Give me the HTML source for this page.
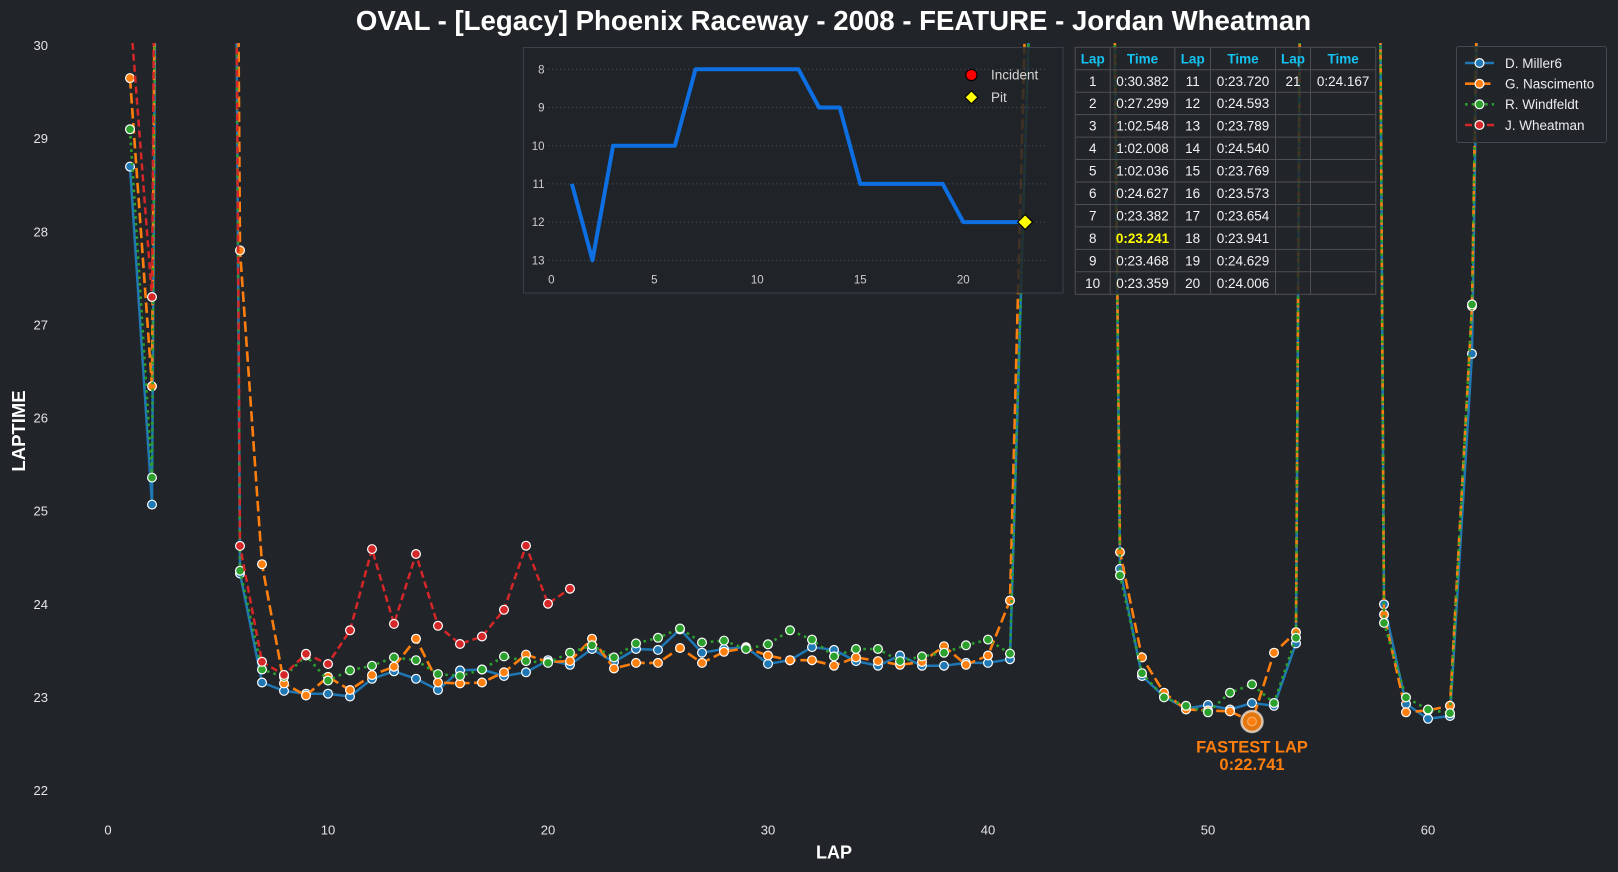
<!DOCTYPE html>
<html><head><meta charset="utf-8"><style>
html,body{margin:0;padding:0;background:#212429;}
svg{display:block;font-family:"Liberation Sans",Arial,sans-serif;}
</style></head><body>
<svg width="1618" height="872" viewBox="0 0 1618 872" xmlns="http://www.w3.org/2000/svg">
<defs><clipPath id="pc"><rect x="0" y="43" width="1618" height="829"/></clipPath></defs>
<rect width="1618" height="872" fill="#212429"/>
<text x="833.5" y="30" text-anchor="middle" font-size="27.6" font-weight="bold" fill="#ffffff">OVAL - [Legacy] Phoenix Raceway - 2008 - FEATURE - Jordan Wheatman</text>
<g font-size="13" fill="#e4e4e4" text-anchor="end">
<text x="48" y="50.1">30</text><text x="48" y="143.2">29</text><text x="48" y="236.4">28</text><text x="48" y="329.5">27</text><text x="48" y="422.6">26</text><text x="48" y="515.7">25</text><text x="48" y="608.9">24</text><text x="48" y="702">23</text><text x="48" y="795.1">22</text>
</g>
<g font-size="13" fill="#e4e4e4" text-anchor="middle">
<text x="108" y="834.6">0</text><text x="328" y="834.6">10</text><text x="548" y="834.6">20</text><text x="768" y="834.6">30</text><text x="988" y="834.6">40</text><text x="1208" y="834.6">50</text><text x="1428" y="834.6">60</text>
</g>
<text x="834" y="858.5" text-anchor="middle" font-size="18" font-weight="bold" fill="#ffffff">LAP</text>
<text transform="translate(25,431) rotate(-90)" text-anchor="middle" font-size="18.5" font-weight="bold" fill="#ffffff">LAPTIME</text>

<g clip-path="url(#pc)" fill="none" stroke-linejoin="round">
<polyline stroke="#1f77b4" stroke-width="2.5" points="130,166.6 152,504.6 174,-2934.5 196,-2934.5 218,-2934.5 240,573.5 262,682.5 284,690.9 306,693.7 328,693.7 350,696.5 372,678.8 394,671.3 416,678.8 438,690.0 460,670.4 482,669.5 504,676.0 526,672.3 548,660.2 570,664.8 592,649.0 614,662.0 636,649.0 658,649.9 680,629.4 702,652.7 724,649.0 746,647.1 768,663.9 790,660.2 812,647.1 834,649.9 856,661.1 878,665.7 900,655.5 922,665.7 944,665.7 966,662.9 988,662.9 1010,659.2 1032,-75.6 1054,-2934.5 1076,-2934.5 1098,-1630.8 1120,568.9 1142,676.0 1164,696.5 1186,708.6 1208,704.9 1230,709.5 1252,703.0 1274,705.8 1296,643.4 1318,-2934.5 1340,-2934.5 1362,-2934.5 1384,604.3 1406,703.9 1428,718.8 1450,716.0 1472,353.7 1494,-1072"/>
<g fill="#1f77b4" stroke="#ffffff" stroke-width="1.2">
<circle cx="130" cy="166.6" r="4.4"/><circle cx="152" cy="504.6" r="4.4"/><circle cx="240" cy="573.5" r="4.4"/><circle cx="262" cy="682.5" r="4.4"/><circle cx="284" cy="690.9" r="4.4"/><circle cx="306" cy="693.7" r="4.4"/><circle cx="328" cy="693.7" r="4.4"/><circle cx="350" cy="696.5" r="4.4"/><circle cx="372" cy="678.8" r="4.4"/><circle cx="394" cy="671.3" r="4.4"/><circle cx="416" cy="678.8" r="4.4"/><circle cx="438" cy="690.0" r="4.4"/><circle cx="460" cy="670.4" r="4.4"/><circle cx="482" cy="669.5" r="4.4"/><circle cx="504" cy="676.0" r="4.4"/><circle cx="526" cy="672.3" r="4.4"/><circle cx="548" cy="660.2" r="4.4"/><circle cx="570" cy="664.8" r="4.4"/><circle cx="592" cy="649.0" r="4.4"/><circle cx="614" cy="662.0" r="4.4"/><circle cx="636" cy="649.0" r="4.4"/><circle cx="658" cy="649.9" r="4.4"/><circle cx="680" cy="629.4" r="4.4"/><circle cx="702" cy="652.7" r="4.4"/><circle cx="724" cy="649.0" r="4.4"/><circle cx="746" cy="647.1" r="4.4"/><circle cx="768" cy="663.9" r="4.4"/><circle cx="790" cy="660.2" r="4.4"/><circle cx="812" cy="647.1" r="4.4"/><circle cx="834" cy="649.9" r="4.4"/><circle cx="856" cy="661.1" r="4.4"/><circle cx="878" cy="665.7" r="4.4"/><circle cx="900" cy="655.5" r="4.4"/><circle cx="922" cy="665.7" r="4.4"/><circle cx="944" cy="665.7" r="4.4"/><circle cx="966" cy="662.9" r="4.4"/><circle cx="988" cy="662.9" r="4.4"/><circle cx="1010" cy="659.2" r="4.4"/><circle cx="1120" cy="568.9" r="4.4"/><circle cx="1142" cy="676.0" r="4.4"/><circle cx="1164" cy="696.5" r="4.4"/><circle cx="1186" cy="708.6" r="4.4"/><circle cx="1208" cy="704.9" r="4.4"/><circle cx="1230" cy="709.5" r="4.4"/><circle cx="1252" cy="703.0" r="4.4"/><circle cx="1274" cy="705.8" r="4.4"/><circle cx="1296" cy="643.4" r="4.4"/><circle cx="1384" cy="604.3" r="4.4"/><circle cx="1406" cy="703.9" r="4.4"/><circle cx="1428" cy="718.8" r="4.4"/><circle cx="1450" cy="716.0" r="4.4"/><circle cx="1472" cy="353.7" r="4.4"/>
</g>

<polyline stroke="#ff7f0e" stroke-width="2.6" stroke-dasharray="10.5 4.5" points="130,78.1 152,386.3 174,-2934.5 196,-2934.5 218,-2934.5 240,250.4 262,564.2 284,683.4 306,695.5 328,676.9 350,690.0 372,675.1 394,666.7 416,638.7 438,682.5 460,683.4 482,682.5 504,672.3 526,654.6 548,662.0 570,661.1 592,638.7 614,668.5 636,662.9 658,662.9 680,648.0 702,662.9 724,651.8 746,648.0 768,655.5 790,660.2 812,660.2 834,665.7 856,657.4 878,661.1 900,664.8 922,662.0 944,646.2 966,664.8 988,655.5 1010,600.5 1032,-243.1 1054,-2934.5 1076,-2934.5 1098,-1630.8 1120,552.1 1142,657.4 1164,692.7 1186,709.5 1208,710.4 1230,711.4 1252,721.5 1274,652.7 1296,632.2 1318,-2934.5 1340,-2934.5 1362,-2934.5 1384,614.5 1406,712.3 1428,710.4 1450,705.8 1472,306.2 1494,-1072"/>
<g fill="#ff7f0e" stroke="#ffffff" stroke-width="1.2">
<circle cx="130" cy="78.1" r="4.4"/><circle cx="152" cy="386.3" r="4.4"/><circle cx="240" cy="250.4" r="4.4"/><circle cx="262" cy="564.2" r="4.4"/><circle cx="284" cy="683.4" r="4.4"/><circle cx="306" cy="695.5" r="4.4"/><circle cx="328" cy="676.9" r="4.4"/><circle cx="350" cy="690.0" r="4.4"/><circle cx="372" cy="675.1" r="4.4"/><circle cx="394" cy="666.7" r="4.4"/><circle cx="416" cy="638.7" r="4.4"/><circle cx="438" cy="682.5" r="4.4"/><circle cx="460" cy="683.4" r="4.4"/><circle cx="482" cy="682.5" r="4.4"/><circle cx="504" cy="672.3" r="4.4"/><circle cx="526" cy="654.6" r="4.4"/><circle cx="548" cy="662.0" r="4.4"/><circle cx="570" cy="661.1" r="4.4"/><circle cx="592" cy="638.7" r="4.4"/><circle cx="614" cy="668.5" r="4.4"/><circle cx="636" cy="662.9" r="4.4"/><circle cx="658" cy="662.9" r="4.4"/><circle cx="680" cy="648.0" r="4.4"/><circle cx="702" cy="662.9" r="4.4"/><circle cx="724" cy="651.8" r="4.4"/><circle cx="746" cy="648.0" r="4.4"/><circle cx="768" cy="655.5" r="4.4"/><circle cx="790" cy="660.2" r="4.4"/><circle cx="812" cy="660.2" r="4.4"/><circle cx="834" cy="665.7" r="4.4"/><circle cx="856" cy="657.4" r="4.4"/><circle cx="878" cy="661.1" r="4.4"/><circle cx="900" cy="664.8" r="4.4"/><circle cx="922" cy="662.0" r="4.4"/><circle cx="944" cy="646.2" r="4.4"/><circle cx="966" cy="664.8" r="4.4"/><circle cx="988" cy="655.5" r="4.4"/><circle cx="1010" cy="600.5" r="4.4"/><circle cx="1120" cy="552.1" r="4.4"/><circle cx="1142" cy="657.4" r="4.4"/><circle cx="1164" cy="692.7" r="4.4"/><circle cx="1186" cy="709.5" r="4.4"/><circle cx="1208" cy="710.4" r="4.4"/><circle cx="1230" cy="711.4" r="4.4"/><circle cx="1252" cy="721.5" r="4.4"/><circle cx="1274" cy="652.7" r="4.4"/><circle cx="1296" cy="632.2" r="4.4"/><circle cx="1384" cy="614.5" r="4.4"/><circle cx="1406" cy="712.3" r="4.4"/><circle cx="1428" cy="710.4" r="4.4"/><circle cx="1450" cy="705.8" r="4.4"/><circle cx="1472" cy="306.2" r="4.4"/>
</g>

<polyline stroke="#2ca02c" stroke-width="2.6" stroke-dasharray="2.6 4.1" points="130,129.3 152,477.6 174,-2934.5 196,-2934.5 218,-2934.5 240,570.7 262,669.5 284,676.9 306,655.5 328,680.6 350,670.4 372,665.7 394,657.4 416,660.2 438,674.1 460,676.0 482,669.5 504,656.4 526,661.1 548,662.9 570,652.7 592,645.3 614,657.4 636,643.4 658,637.8 680,628.5 702,642.5 724,640.6 746,649.0 768,644.3 790,630.3 812,639.6 834,656.4 856,649.0 878,649.0 900,661.1 922,656.4 944,652.7 966,645.3 988,639.6 1010,653.6 1032,-75.6 1054,-2934.5 1076,-2934.5 1098,-1630.8 1120,575.4 1142,673.2 1164,697.4 1186,705.8 1208,712.3 1230,692.7 1252,684.4 1274,703.0 1296,637.8 1318,-2934.5 1340,-2934.5 1362,-2934.5 1384,622.9 1406,697.4 1428,709.5 1450,713.2 1472,304.4 1494,-1072"/>
<g fill="#2ca02c" stroke="#ffffff" stroke-width="1.2">
<circle cx="130" cy="129.3" r="4.4"/><circle cx="152" cy="477.6" r="4.4"/><circle cx="240" cy="570.7" r="4.4"/><circle cx="262" cy="669.5" r="4.4"/><circle cx="284" cy="676.9" r="4.4"/><circle cx="306" cy="655.5" r="4.4"/><circle cx="328" cy="680.6" r="4.4"/><circle cx="350" cy="670.4" r="4.4"/><circle cx="372" cy="665.7" r="4.4"/><circle cx="394" cy="657.4" r="4.4"/><circle cx="416" cy="660.2" r="4.4"/><circle cx="438" cy="674.1" r="4.4"/><circle cx="460" cy="676.0" r="4.4"/><circle cx="482" cy="669.5" r="4.4"/><circle cx="504" cy="656.4" r="4.4"/><circle cx="526" cy="661.1" r="4.4"/><circle cx="548" cy="662.9" r="4.4"/><circle cx="570" cy="652.7" r="4.4"/><circle cx="592" cy="645.3" r="4.4"/><circle cx="614" cy="657.4" r="4.4"/><circle cx="636" cy="643.4" r="4.4"/><circle cx="658" cy="637.8" r="4.4"/><circle cx="680" cy="628.5" r="4.4"/><circle cx="702" cy="642.5" r="4.4"/><circle cx="724" cy="640.6" r="4.4"/><circle cx="746" cy="649.0" r="4.4"/><circle cx="768" cy="644.3" r="4.4"/><circle cx="790" cy="630.3" r="4.4"/><circle cx="812" cy="639.6" r="4.4"/><circle cx="834" cy="656.4" r="4.4"/><circle cx="856" cy="649.0" r="4.4"/><circle cx="878" cy="649.0" r="4.4"/><circle cx="900" cy="661.1" r="4.4"/><circle cx="922" cy="656.4" r="4.4"/><circle cx="944" cy="652.7" r="4.4"/><circle cx="966" cy="645.3" r="4.4"/><circle cx="988" cy="639.6" r="4.4"/><circle cx="1010" cy="653.6" r="4.4"/><circle cx="1120" cy="575.4" r="4.4"/><circle cx="1142" cy="673.2" r="4.4"/><circle cx="1164" cy="697.4" r="4.4"/><circle cx="1186" cy="705.8" r="4.4"/><circle cx="1208" cy="712.3" r="4.4"/><circle cx="1230" cy="692.7" r="4.4"/><circle cx="1252" cy="684.4" r="4.4"/><circle cx="1274" cy="703.0" r="4.4"/><circle cx="1296" cy="637.8" r="4.4"/><circle cx="1384" cy="622.9" r="4.4"/><circle cx="1406" cy="697.4" r="4.4"/><circle cx="1428" cy="709.5" r="4.4"/><circle cx="1450" cy="713.2" r="4.4"/><circle cx="1472" cy="304.4" r="4.4"/>
</g>

<polyline stroke="#d62728" stroke-width="2.5" stroke-dasharray="7 4" points="130,9.9 152,297.0 174,-2985.5 196,-2935.3 218,-2937.9 240,545.9 262,661.8 284,674.9 306,653.8 328,664.0 350,630.3 372,549.1 394,623.9 416,554.0 438,625.8 460,644.0 482,636.5 504,609.8 526,545.7 548,603.7 570,588.7"/>
<g fill="#d62728" stroke="#ffffff" stroke-width="1.2">
<circle cx="152" cy="297.0" r="4.4"/><circle cx="240" cy="545.9" r="4.4"/><circle cx="262" cy="661.8" r="4.4"/><circle cx="284" cy="674.9" r="4.4"/><circle cx="306" cy="653.8" r="4.4"/><circle cx="328" cy="664.0" r="4.4"/><circle cx="350" cy="630.3" r="4.4"/><circle cx="372" cy="549.1" r="4.4"/><circle cx="394" cy="623.9" r="4.4"/><circle cx="416" cy="554.0" r="4.4"/><circle cx="438" cy="625.8" r="4.4"/><circle cx="460" cy="644.0" r="4.4"/><circle cx="482" cy="636.5" r="4.4"/><circle cx="504" cy="609.8" r="4.4"/><circle cx="526" cy="545.7" r="4.4"/><circle cx="548" cy="603.7" r="4.4"/><circle cx="570" cy="588.7" r="4.4"/>
</g>
</g>

<!-- fastest lap -->
<circle cx="1252" cy="721.5" r="10.5" fill="#e3770f" stroke="#f0e6dc" stroke-opacity="0.75" stroke-width="2.5"/>
<circle cx="1252" cy="721.5" r="4.4" fill="#ff7f0e" stroke="#ffb070" stroke-width="1"/>
<g font-size="16.5" font-weight="bold" fill="#ff7f0e" text-anchor="middle">
<text x="1252" y="752.3">FASTEST LAP</text>
<text x="1252" y="770">0:22.741</text>
</g>

<!-- inset -->
<rect x="523.5" y="47.5" width="539.5" height="245.5" fill="#212429" fill-opacity="0.86" stroke="#3d4046" stroke-width="1"/>
<g stroke="#4a4d53" stroke-width="1" stroke-dasharray="1.2 2.8">
<line x1="548" y1="69.3" x2="1047" y2="69.3"/><line x1="548" y1="107.5" x2="1047" y2="107.5"/><line x1="548" y1="145.7" x2="1047" y2="145.7"/><line x1="548" y1="183.9" x2="1047" y2="183.9"/><line x1="548" y1="222.1" x2="1047" y2="222.1"/><line x1="548" y1="260.3" x2="1047" y2="260.3"/>
</g>
<g font-size="11.5" fill="#cdcdcd" text-anchor="end">
<text x="544.5" y="73.4">8</text><text x="544.5" y="111.6">9</text><text x="544.5" y="149.8">10</text><text x="544.5" y="188">11</text><text x="544.5" y="226.2">12</text><text x="544.5" y="264.4">13</text>
</g>
<g font-size="11.5" fill="#cdcdcd" text-anchor="middle">
<text x="551.3" y="283.4">0</text><text x="654.3" y="283.4">5</text><text x="757.3" y="283.4">10</text><text x="860.3" y="283.4">15</text><text x="963.3" y="283.4">20</text>
</g>
<polyline fill="none" stroke="#0d6fe2" stroke-width="4" stroke-linejoin="round" points="571.9,183.9 592.5,260.3 613.1,145.7 674.9,145.7 695.5,69.3 798.5,69.3 819.1,107.5 839.7,107.5 860.3,183.9 942.7,183.9 963.3,222.1 1025.1,222.1"/>
<polygon points="1025.1,214.6 1032.6,222.1 1025.1,229.6 1017.6,222.1" fill="#ffff00" stroke="#000" stroke-width="1.2"/>
<circle cx="971.4" cy="75" r="5.6" fill="#ff0000" stroke="#000" stroke-width="1.1"/>
<polygon points="971.4,90.8 977.9,97.3 971.4,103.8 964.9,97.3" fill="#ffff00" stroke="#000" stroke-width="1.1"/>
<g font-size="13.5" fill="#d6d6d6">
<text x="991" y="79.7">Incident</text><text x="991" y="102">Pit</text>
</g>

<!-- table -->
<rect x="1075.2" y="47.3" width="300.6" height="247" fill="#212429" fill-opacity="0.82"/>
<g stroke="#4e4f52" stroke-width="1">
<rect x="1075.2" y="47.3" width="300.6" height="247" fill="none"/>
<line x1="1110.2" y1="47.3" x2="1110.2" y2="294.3"/><line x1="1174.9" y1="47.3" x2="1174.9" y2="294.3"/><line x1="1210.5" y1="47.3" x2="1210.5" y2="294.3"/><line x1="1275.5" y1="47.3" x2="1275.5" y2="294.3"/><line x1="1310.5" y1="47.3" x2="1310.5" y2="294.3"/>
<line x1="1075.2" y1="69.75" x2="1375.8" y2="69.75"/><line x1="1075.2" y1="92.2" x2="1375.8" y2="92.2"/><line x1="1075.2" y1="114.65" x2="1375.8" y2="114.65"/><line x1="1075.2" y1="137.1" x2="1375.8" y2="137.1"/><line x1="1075.2" y1="159.55" x2="1375.8" y2="159.55"/><line x1="1075.2" y1="182" x2="1375.8" y2="182"/><line x1="1075.2" y1="204.45" x2="1375.8" y2="204.45"/><line x1="1075.2" y1="226.9" x2="1375.8" y2="226.9"/><line x1="1075.2" y1="249.35" x2="1375.8" y2="249.35"/><line x1="1075.2" y1="271.8" x2="1375.8" y2="271.8"/>
</g>
<g font-size="13.5" font-weight="bold" fill="#14c3f2" text-anchor="middle">
<text x="1092.7" y="63.3">Lap</text><text x="1142.5" y="63.3">Time</text><text x="1192.7" y="63.3">Lap</text><text x="1243" y="63.3">Time</text><text x="1293" y="63.3">Lap</text><text x="1343.1" y="63.3">Time</text>
</g>
<g font-size="13.5" fill="#f2f2f2" text-anchor="middle">
<text x="1092.7" y="85.8">1</text><text x="1142.5" y="85.8">0:30.382</text><text x="1192.7" y="85.8">11</text><text x="1243" y="85.8">0:23.720</text><text x="1293" y="85.8">21</text><text x="1343.1" y="85.8">0:24.167</text>
<text x="1092.7" y="108.2">2</text><text x="1142.5" y="108.2">0:27.299</text><text x="1192.7" y="108.2">12</text><text x="1243" y="108.2">0:24.593</text>
<text x="1092.7" y="130.7">3</text><text x="1142.5" y="130.7">1:02.548</text><text x="1192.7" y="130.7">13</text><text x="1243" y="130.7">0:23.789</text>
<text x="1092.7" y="153.1">4</text><text x="1142.5" y="153.1">1:02.008</text><text x="1192.7" y="153.1">14</text><text x="1243" y="153.1">0:24.540</text>
<text x="1092.7" y="175.6">5</text><text x="1142.5" y="175.6">1:02.036</text><text x="1192.7" y="175.6">15</text><text x="1243" y="175.6">0:23.769</text>
<text x="1092.7" y="198">6</text><text x="1142.5" y="198">0:24.627</text><text x="1192.7" y="198">16</text><text x="1243" y="198">0:23.573</text>
<text x="1092.7" y="220.5">7</text><text x="1142.5" y="220.5">0:23.382</text><text x="1192.7" y="220.5">17</text><text x="1243" y="220.5">0:23.654</text>
<text x="1092.7" y="242.9">8</text><text x="1142.5" y="242.9" fill="#ffff00" font-weight="bold">0:23.241</text><text x="1192.7" y="242.9">18</text><text x="1243" y="242.9">0:23.941</text>
<text x="1092.7" y="265.4">9</text><text x="1142.5" y="265.4">0:23.468</text><text x="1192.7" y="265.4">19</text><text x="1243" y="265.4">0:24.629</text>
<text x="1092.7" y="287.8">10</text><text x="1142.5" y="287.8">0:23.359</text><text x="1192.7" y="287.8">20</text><text x="1243" y="287.8">0:24.006</text>
</g>

<!-- legend -->
<rect x="1456.5" y="46.5" width="150" height="96" rx="2.5" fill="#212429" fill-opacity="0.82" stroke="#45484e" stroke-width="1"/>
<line x1="1465" y1="63" x2="1494" y2="63" stroke="#1f77b4" stroke-width="2.5"/>
<circle cx="1479.5" cy="63" r="4.4" fill="#1f77b4" stroke="#fff" stroke-width="1.2"/>
<line x1="1465" y1="83.7" x2="1494" y2="83.7" stroke="#ff7f0e" stroke-width="2.6" stroke-dasharray="10.5 4.5"/>
<circle cx="1479.5" cy="83.7" r="4.4" fill="#ff7f0e" stroke="#fff" stroke-width="1.2"/>
<line x1="1465" y1="104.3" x2="1494" y2="104.3" stroke="#2ca02c" stroke-width="2.6" stroke-dasharray="2.6 4.1"/>
<circle cx="1479.5" cy="104.3" r="4.4" fill="#2ca02c" stroke="#fff" stroke-width="1.2"/>
<line x1="1465" y1="125" x2="1494" y2="125" stroke="#d62728" stroke-width="2.5" stroke-dasharray="7 4"/>
<circle cx="1479.5" cy="125" r="4.4" fill="#d62728" stroke="#fff" stroke-width="1.2"/>
<g font-size="13.5" fill="#ececec">
<text x="1505" y="67.8">D. Miller6</text><text x="1505" y="88.5">G. Nascimento</text><text x="1505" y="109.1">R. Windfeldt</text><text x="1505" y="129.8">J. Wheatman</text>
</g>
</svg>
</body></html>
